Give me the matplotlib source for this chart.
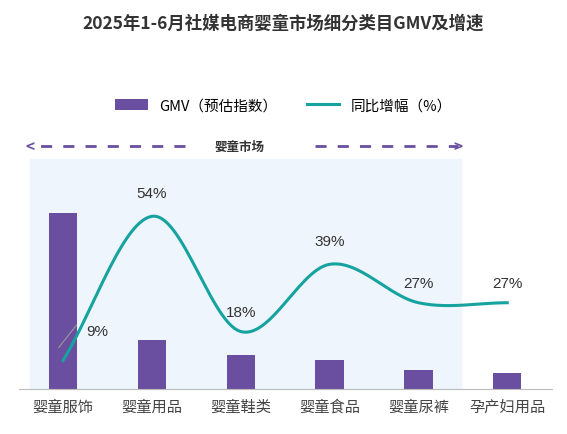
import matplotlib.pyplot as plt
import numpy as np
from matplotlib.patches import Rectangle

plt.rcParams['font.family'] = ['Noto Sans CJK SC', 'DejaVu Sans']

categories = ['婴童服饰', '婴童用品', '婴童鞋类', '婴童食品', '婴童尿裤', '孕产妇用品']
gmv = [100, 28, 19.5, 16.5, 11, 9]
growth = [9, 54, 18, 39, 27, 27]

fig = plt.figure(figsize=(5.67, 4.35), dpi=100)
ax = fig.add_axes([0.033, 0.103, 0.94, 0.53])
x = np.arange(len(categories))

# light market background
ax.add_patch(Rectangle((-0.37, 0), 4.85, 1.0, transform=ax.get_xaxis_transform(),
                       color='#eef5fc', zorder=0, clip_on=False))
ax.bar(x, gmv, width=0.32, color='#6a4fa0', zorder=2, label='GMV（预估指数）')
ax.set_xlim(-0.5, 5.5)
ax.set_ylim(0, 131)
ax.set_yticks([])
ax.set_xticks(x)
ax.set_xticklabels(categories, fontsize=11, color='#444444')
ax.tick_params(axis='x', length=0, pad=6)
for s in ['top', 'right', 'left']:
    ax.spines[s].set_visible(False)
ax.spines['bottom'].set_color('#bbbbbb')

ax2 = ax.twinx()
ax2.set_ylim(0, 72)
ax2.axis('off')
# smooth curve through the points (Catmull-Rom)
px, py = x.astype(float), np.array(growth, float)
P = np.vstack([px, py]).T
P = np.vstack([P[0] - (P[1] - P[0]), P, P[-1] + (P[-1] - P[-2])])
cx, cy = [], []
for i in range(1, len(P) - 2):
    p0, p1, p2, p3 = P[i - 1], P[i], P[i + 1], P[i + 2]
    for t in np.linspace(0, 1, 30):
        pt = 0.5 * ((2 * p1) + (-p0 + p2) * t + (2 * p0 - 5 * p1 + 4 * p2 - p3) * t ** 2
                    + (-p0 + 3 * p1 - 3 * p2 + p3) * t ** 3)
        cx.append(pt[0]); cy.append(pt[1])
ax2.plot(cx, cy, color='#16a3a0', lw=2.2, zorder=3, label='同比增幅（%）')
offs = [(0.38, 7), (0, 5), (0, 4), (0, 5), (0, 4), (0, 4)]
for xi, v, (dx, dy) in zip(x, growth, offs):
    ax2.text(xi + dx, v + dy, f'{v}%', ha='center', va='bottom', fontsize=11,
             color='#333333', family='Liberation Sans')
ax2.plot([-0.05, 0.15], [13, 20], color='#999999', lw=0.8)

fig.text(0.5, 0.935, '2025年1-6月社媒电商婴童市场细分类目GMV及增速', ha='center',
         fontsize=12.5, fontweight='bold', color='#333333')
h1, l1 = ax.get_legend_handles_labels()
h2, l2 = ax2.get_legend_handles_labels()
fig.legend(h1 + h2, l1 + l2, loc='center', bbox_to_anchor=(0.5, 0.755), ncol=2,
           frameon=False, fontsize=10.5, handlelength=2.2, columnspacing=2)

# market arrows
ay = 1 - 147 / 435
fig.text(240 / 567, ay, '婴童市场', ha='center', va='center', fontsize=9, fontweight='bold', color='#333333')
for x0, x1 in [(185, 30), (315, 458)]:
    fig.add_artist(plt.Line2D([x0 / 567, x1 / 567], [ay, ay], color='#6a4fa0', lw=2, ls=(0, (4, 4))))
    fig.text(x1 / 567, ay, '<' if x1 < x0 else '>', ha='center', va='center', fontsize=11,
             color='#6a4fa0', fontweight='bold')

fig.savefig('out.png')
